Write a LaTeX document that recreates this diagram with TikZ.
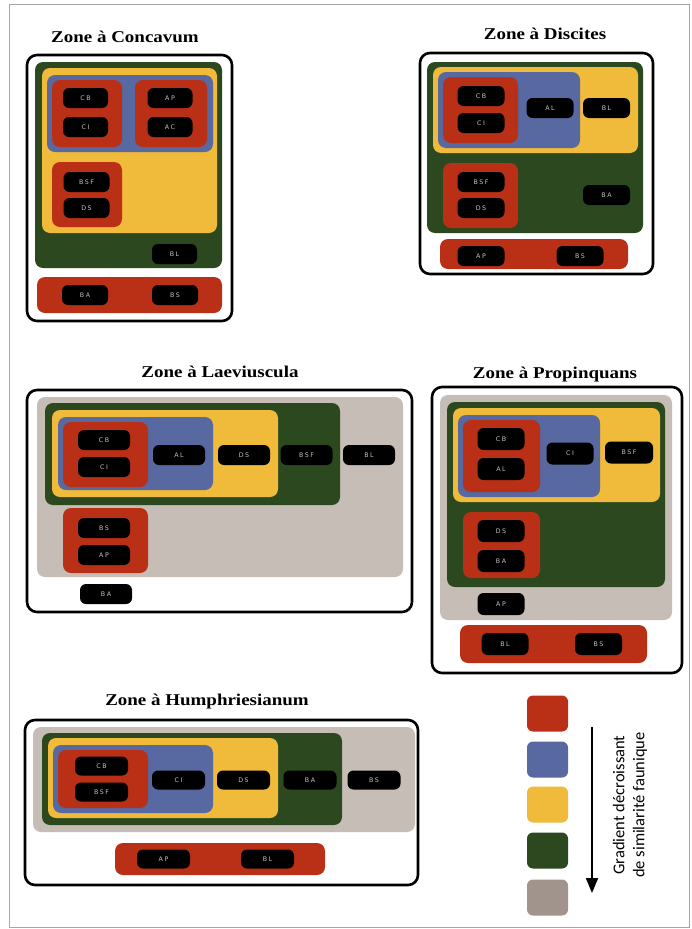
\documentclass[tikz,border=0pt]{standalone}
\usepackage{fontspec}
\usepackage{graphicx}
\usetikzlibrary{arrows.meta}
\newfontfamily\ttlfont{Liberation Serif}
\newfontfamily\labfont{DejaVu Sans}[LetterSpace=25]
\newfontfamily\legfont{Carlito}
\definecolor{zred}{RGB}{185,48,22}
\definecolor{zblue}{RGB}{88,104,160}
\definecolor{zyellow}{RGB}{240,186,58}
\definecolor{zgreen}{RGB}{44,72,30}
\definecolor{zgray}{RGB}{198,189,182}
\definecolor{zgrayleg}{RGB}{160,148,140}
\definecolor{labtxt}{RGB}{195,195,195}
\newcommand\zlab[5]{\node[lab,minimum width=#2pt] (#1) at (#3,#4) {#5};}
\newcommand\zttl[1]{\scalebox{1.15}[1]{#1}}
\begin{document}
\begin{tikzpicture}[x=1pt,y=-1pt,
  frame/.style={draw=black,line width=2.6pt,rounded corners=10pt},
  zone/.style={fill=#1,rounded corners=8pt},
  lab/.style={fill=black,rounded corners=6pt,text=labtxt,font=\labfont\fontsize{6.3}{7}\selectfont,minimum height=20pt,inner sep=0pt},
  ttl/.style={font=\ttlfont\bfseries\fontsize{16.5}{19}\selectfont,inner sep=0pt},
  legbox/.style={fill=#1,rounded corners=6pt,minimum width=41pt,minimum height=36pt,inner sep=0pt}]
\useasboundingbox (0,0) rectangle (691,929);
\fill[white] (0,0) rectangle (691,929);
\draw[gray!70,line width=0.6pt] (9,4) rectangle (689,927);

% ---------- Zone a Concavum
\node[ttl] (tconc) at (125,37) {\zttl{Zone à Concavum}};
\draw[frame] (27,55) rectangle (232,321);
\fill[zone=zgreen] (35,62) rectangle (222,268);
\fill[zone=zyellow] (42,68) rectangle (217,233);
\fill[zone=zblue] (47,75) rectangle (213,152);
\fill[zone=zred] (52,80) rectangle (122,147);
\fill[zone=zred] (135,80) rectangle (207,147);
\fill[zone=zred] (52,162) rectangle (122,227);
\fill[zone=zred] (37,277) rectangle (222,313);
\zlab{c-cb}{45}{85.5}{98}{CB}
\zlab{c-ci}{45}{85.5}{127}{CI}
\zlab{c-ap}{45}{170}{98}{AP}
\zlab{c-ac}{45}{170}{127}{AC}
\zlab{c-bsf}{46}{86.5}{182}{BSF}
\zlab{c-ds}{46}{86.5}{208}{DS}
\zlab{c-bl}{45}{174.5}{254}{BL}
\zlab{c-ba}{46}{85}{295}{BA}
\zlab{c-bs}{46}{175}{295}{BS}

% ---------- Zone a Discites
\node[ttl] (tdisc) at (545,34) {\zttl{Zone à Discites}};
\draw[frame] (420,53) rectangle (653,274);
\fill[zone=zgreen] (427,62) rectangle (643,233);
\fill[zone=zyellow] (433,67) rectangle (638,153);
\fill[zone=zblue] (438,72) rectangle (580,148);
\fill[zone=zred] (443,77) rectangle (518,143);
\fill[zone=zred] (443,163) rectangle (518,228);
\fill[zone=zred] (440,239) rectangle (628,269);
\zlab{d-cb}{47}{481}{96}{CB}
\zlab{d-ci}{47}{481}{123}{CI}
\zlab{d-al}{47}{550}{108}{AL}
\zlab{d-bl}{47}{606.5}{108}{BL}
\zlab{d-bsf}{47}{481}{182}{BSF}
\zlab{d-ds}{47}{481}{208}{DS}
\zlab{d-ba}{47}{606.5}{195}{BA}
\zlab{d-ap}{47}{481}{256}{AP}
\zlab{d-bs}{47}{580}{256}{BS}

% ---------- Zone a Laeviuscula
\node[ttl] (tlaev) at (220,372) {\zttl{Zone à Laeviuscula}};
\draw[frame] (27,390) rectangle (412,612);
\fill[zone=zgray] (37,397) rectangle (403,577);
\fill[zone=zgreen] (45,403) rectangle (340,505);
\fill[zone=zyellow] (52,410) rectangle (278,497);
\fill[zone=zblue] (58,417) rectangle (213,490);
\fill[zone=zred] (63,422) rectangle (148,487);
\fill[zone=zred] (63,508) rectangle (148,573);
\zlab{l-cb}{52}{104}{440}{CB}
\zlab{l-ci}{52}{104}{467}{CI}
\zlab{l-al}{52}{179}{455}{AL}
\zlab{l-ds}{52}{244}{455}{DS}
\zlab{l-bsf}{52}{306.5}{455}{BSF}
\zlab{l-bl}{52}{369}{455}{BL}
\zlab{l-bs}{52}{104}{528}{BS}
\zlab{l-ap}{52}{104}{555}{AP}
\zlab{l-ba}{52}{106}{594}{BA}

% ---------- Zone a Propinquans
\node[ttl] (tprop) at (555,375) {\zttl{Zone à Propinquans}};
\draw[frame] (432,387) rectangle (682,673);
\fill[zone=zgray] (440,395) rectangle (672,620);
\fill[zone=zgreen] (447,402) rectangle (665,587);
\fill[zone=zyellow] (453,408) rectangle (660,502);
\fill[zone=zblue] (458,415) rectangle (600,497);
\fill[zone=zred] (463,420) rectangle (540,492);
\fill[zone=zred] (463,512) rectangle (540,578);
\fill[zone=zred] (460,625) rectangle (647,663);
\begin{scope}[lab/.append style={minimum height=22pt}]
\zlab{p-cb}{47}{501}{439}{CB}
\zlab{p-al}{47}{501}{469}{AL}
\zlab{p-ci}{47}{570}{453.5}{CI}
\zlab{p-bsf}{48}{629}{452.5}{BSF}
\zlab{p-ds}{47}{501}{531}{DS}
\zlab{p-ba}{47}{501}{561}{BA}
\zlab{p-ap}{47}{501}{604}{AP}
\zlab{p-bl}{47}{505}{644}{BL}
\zlab{p-bs}{47}{598.5}{644}{BS}
\end{scope}

% ---------- Zone a Humphriesianum
\node[ttl] (thum) at (207,702) {\zttl{Zone à Humphriesianum}};
\draw[frame] (25,720) rectangle (418,885);
\fill[zone=zgray] (33,727) rectangle (415,832);
\fill[zone=zgreen] (42,733) rectangle (342,825);
\fill[zone=zyellow] (48,738) rectangle (278,818);
\fill[zone=zblue] (53,745) rectangle (213,813);
\fill[zone=zred] (58,750) rectangle (148,808);
\fill[zone=zred] (115,843) rectangle (325,875);
\begin{scope}[lab/.append style={minimum height=19pt}]
\zlab{h-cb}{53}{101.5}{766}{CB}
\zlab{h-bsf}{53}{101.5}{792}{BSF}
\zlab{h-ci}{53}{178.5}{780}{CI}
\zlab{h-ds}{53}{243.5}{780}{DS}
\zlab{h-ba}{53}{310}{780}{BA}
\zlab{h-bs}{53}{374}{780}{BS}
\zlab{h-ap}{53}{163.5}{859}{AP}
\zlab{h-bl}{53}{267.5}{859}{BL}
\end{scope}

% ---------- Legend
\node[legbox=zred] (lg1) at (547.5,713.5) {};
\node[legbox=zblue] (lg2) at (547.5,759.5) {};
\node[legbox=zyellow] (lg3) at (547.5,804.5) {};
\node[legbox=zgreen] (lg4) at (547.5,850.5) {};
\node[legbox=zgrayleg] (lg5) at (547.5,897.5) {};
\coordinate (atop) at (592,727);
\coordinate (abot) at (592,893);
\draw[line width=1.8pt,-{Triangle[width=12pt,length=15pt]}] (atop) -- (abot);
\node[rotate=90,align=center,font=\legfont\fontsize{16.5}{20}\selectfont,inner sep=0pt] (legtxt) at (630,805)
  {Gradient décroissant\\de similarité faunique};
\end{tikzpicture}
\end{document}
